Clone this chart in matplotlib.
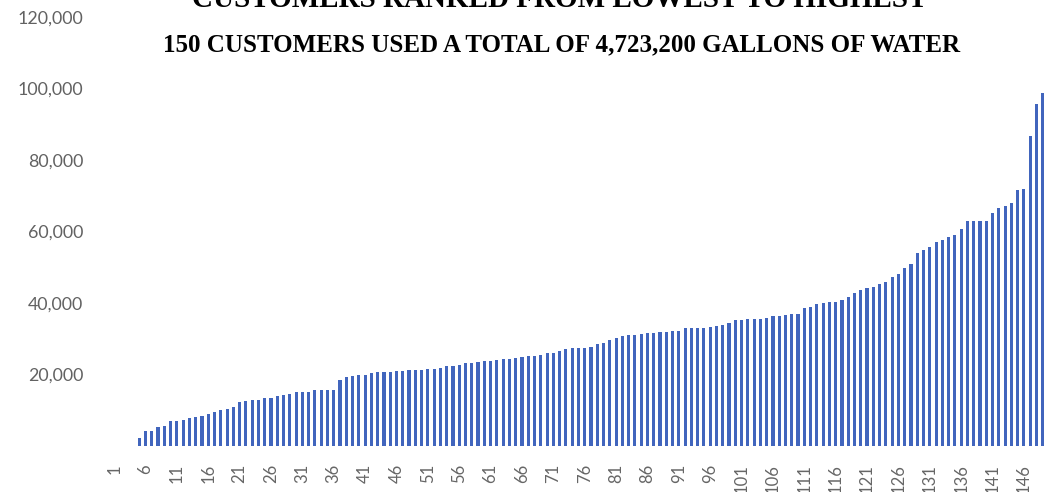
import matplotlib
matplotlib.use("Agg")
import matplotlib.pyplot as plt

# ---- data -------------------------------------------------------------
customers = list(range(1, 151))
usage = [
    0, 0, 0, 0, 2300, 4100, 4200, 5200, 5600, 6900,                # 1-10
    7000, 7400, 7700, 8100, 8500, 8900, 9500, 10200, 10300, 10900,  # 11-20
    12400, 12600, 13000, 13000, 13300, 13500, 14000, 14400, 14600, 15000,  # 21-30
    15000, 15100, 15700, 15700, 15700, 15700, 18500, 19300, 19500, 19800,  # 31-40
    20000, 20400, 20600, 20650, 20800, 20900, 21100, 21200, 21200, 21200,  # 41-50
    21600, 21600, 21900, 22300, 22400, 22600, 23100, 23200, 23400, 23700,  # 51-60
    23900, 24100, 24300, 24400, 24600, 25000, 25300, 25300, 25500, 25900,  # 61-70
    26100, 26700, 27000, 27300, 27300, 27400, 27600, 28500, 28800, 29600,  # 71-80
    30200, 30800, 31100, 31100, 31300, 31600, 31700, 31800, 31900, 32100,  # 81-90
    32100, 32900, 32900, 32900, 32900, 33300, 33500, 33900, 34300, 35200,  # 91-100
    35300, 35500, 35600, 35600, 35700, 36300, 36300, 36600, 36800, 37000,  # 101-110
    38500, 38900, 39600, 39900, 40200, 40400, 40700, 41700, 42800, 43500,  # 111-120
    44100, 44400, 45200, 45900, 47200, 48100, 49800, 50900, 54000, 54900,  # 121-130
    55700, 57200, 57700, 58600, 59100, 60700, 63000, 63000, 63000, 63000,  # 131-140
    65100, 66700, 67000, 67900, 71600, 72000, 86700, 95600, 98700, 150950,  # 141-150
]
x_tick_labels = [str(c) for c in customers[::5]]
y_ticks = [20000, 40000, 60000, 80000, 100000, 120000]
y_tick_labels = ["20,000", "40,000", "60,000", "80,000", "100,000", "120,000"]
title_top = "CUSTOMERS RANKED FROM LOWEST TO HIGHEST"
title_sub = "150 CUSTOMERS USED A TOTAL OF 4,723,200 GALLONS OF WATER"

# ---- figure -----------------------------------------------------------
W, H = 1044, 492
fig = plt.figure(figsize=(W / 100, H / 100), dpi=100)
fig.patch.set_facecolor("white")

ax_left, ax_right, ax_bottom, ax_top = 111, 1044, 446, 17
ax = fig.add_axes([ax_left / W, (H - ax_bottom) / H,
                   (ax_right - ax_left) / W, (ax_bottom - ax_top) / H])

ax.bar(customers, usage, width=0.5, color="#4165bd", edgecolor="none")

ax.set_xlim(0.5, 149.2)
ax.set_ylim(0, 120000)

ax.set_xticks(customers[::5])
ax.set_xticklabels(x_tick_labels, rotation=90, fontsize=12,
                   family="Lato", color="#666666")
ax.set_yticks(y_ticks)
ax.set_yticklabels(y_tick_labels, fontsize=12.8, family="Lato", color="#626262")
ax.tick_params(axis="x", length=0, pad=13)
ax.tick_params(axis="y", length=0, pad=20)
for s in ax.spines.values():
    s.set_visible(False)

# the upper title is partly cut off by the top edge in the reference
fig.text(560 / W, (H - 7) / H, title_top, ha="center", va="baseline",
         fontsize=21, fontweight="bold", family="Liberation Serif", color="black")
fig.text(562 / W, (H - 45) / H, title_sub, ha="center", va="center",
         fontsize=18, fontweight="bold", family="Liberation Serif", color="black")

fig.savefig("out.png", dpi=100, facecolor="white")
